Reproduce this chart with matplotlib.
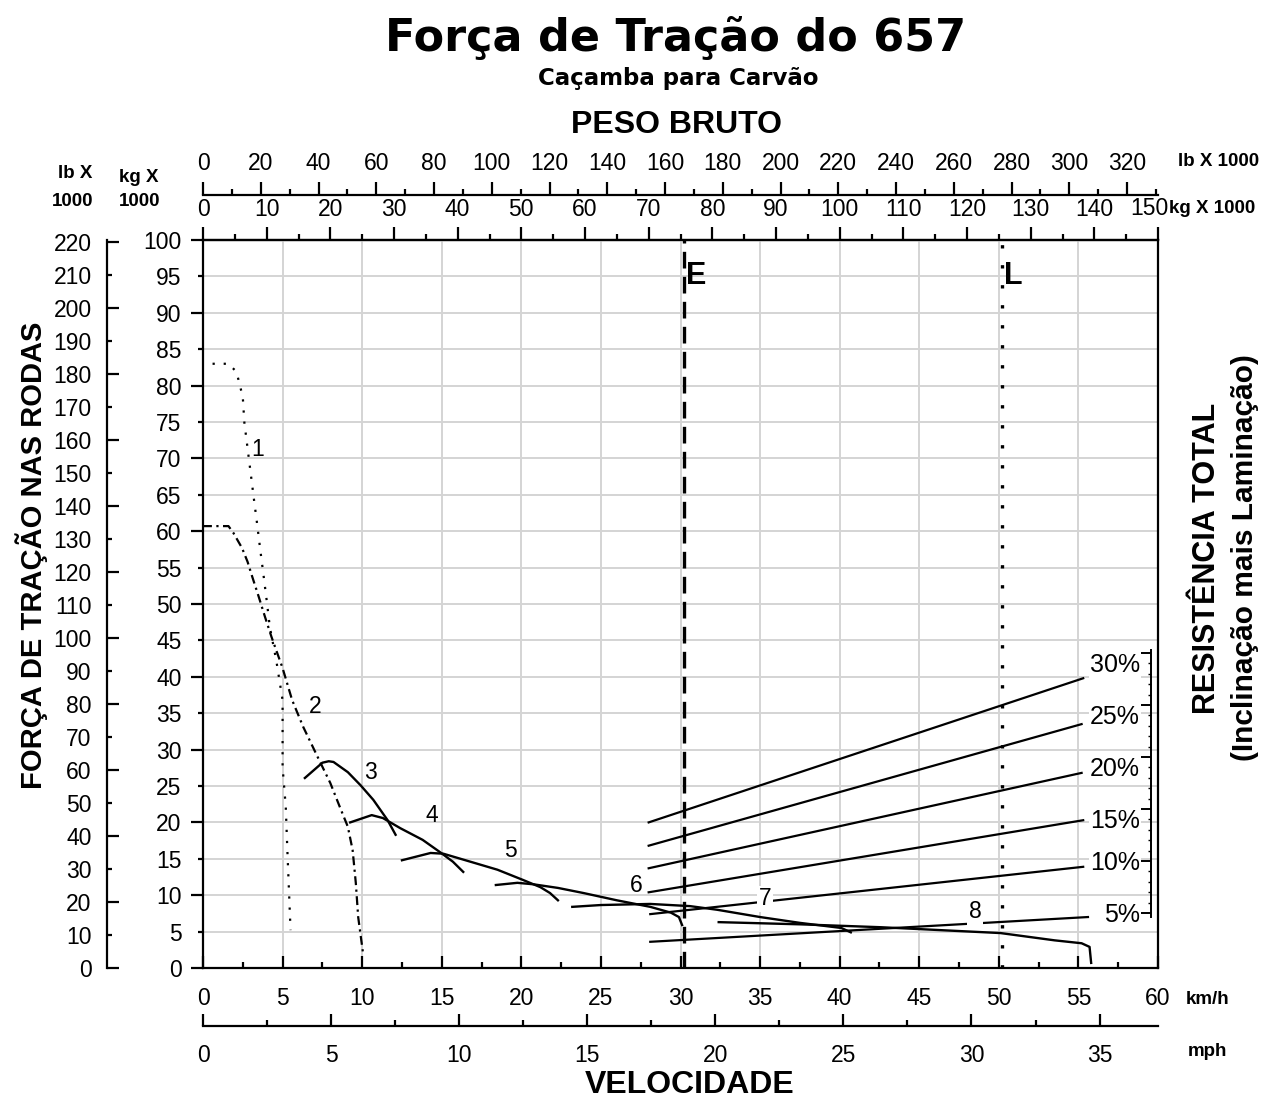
import matplotlib
matplotlib.use('Agg')
import matplotlib.pyplot as plt
from matplotlib.ticker import MultipleLocator, FuncFormatter

plt.rcParams['font.family'] = ['Liberation Sans', 'DejaVu Sans']

# --- data (speed in km/h, rimpull in kg x 1000) ---
gear1_v = [0.6, 1.6, 2.1, 2.3, 2.5, 2.6, 2.8, 3.0, 3.2, 3.4, 3.6, 3.8, 4.0, 4.2, 4.6, 5.0, 5.0, 5.2, 5.3, 5.4, 5.5]
gear1_f = [83.0, 83.0, 81.9, 80.2, 78.4, 74.9, 71.4, 67.9, 64.4, 61.0, 57.4, 54.0, 50.5, 46.8, 42.3, 36.8, 27.6, 22.1, 16.2, 10.7, 5.2]
gear2_v = [0.0, 1.6, 1.9, 2.45, 2.8, 3.1, 3.5, 3.9, 4.3, 5.0, 5.6, 6.3, 7.2, 8.0, 8.6, 9.1, 9.4, 9.6, 9.75, 10.05]
gear2_f = [60.7, 60.7, 59.8, 57.7, 55.8, 53.7, 51.0, 48.2, 45.5, 41.2, 36.8, 33.1, 29.0, 25.4, 22.1, 19.4, 16.2, 11.7, 7.0, 2.1]
gear3_v = [6.4, 7.5, 7.9, 8.2, 9.1, 9.9, 10.7, 11.6, 12.1]
gear3_f = [26.1, 28.2, 28.4, 28.3, 26.9, 25.1, 23.1, 20.3, 18.3]
gear4_v = [9.25, 10.6, 11.3, 12.4, 13.8, 14.9, 15.7, 16.35]
gear4_f = [20.0, 21.0, 20.6, 19.2, 17.6, 15.9, 14.6, 13.2]
gear5_v = [12.5, 14.3, 15.1, 16.8, 18.5, 20.1, 21.2, 21.8, 22.3]
gear5_f = [14.8, 15.8, 15.7, 14.6, 13.5, 12.1, 11.1, 10.3, 9.3]
gear6_v = [18.4, 19.75, 20.75, 22.3, 23.9, 26.0, 28.1, 29.4, 29.9, 30.1]
gear6_f = [11.4, 11.7, 11.5, 11.0, 10.3, 9.3, 8.4, 7.6, 7.0, 5.9]
gear7_v = [23.2, 25.0, 28.1, 30.6, 32.3, 35.0, 37.5, 40.1, 40.7]
gear7_f = [8.4, 8.65, 8.8, 8.5, 8.0, 7.0, 6.2, 5.5, 4.9]
gear8_v = [32.4, 37.5, 42.6, 50.1, 53.5, 55.2, 55.7, 55.8]
gear8_f = [6.3, 6.0, 5.6, 4.8, 3.8, 3.4, 2.9, 0.7]

gear_names = ['1', '2', '3', '4', '5', '6', '7', '8']
gear_label_v = [3.45, 7.04, 10.55, 14.4, 19.3, 27.2, 35.3, 48.5]
gear_label_f = [71.2, 35.9, 26.8, 21.0, 16.2, 11.3, 9.5, 7.7]

# total resistance lines (grade %)
grade_pct = [30, 25, 20, 15, 10, 5]
grade_v_start = [28.0, 28.0, 28.0, 28.0, 28.1, 28.1]
grade_v_end = [55.3, 55.2, 55.2, 55.3, 55.3, 55.6]
grade_f_start = [20.0, 16.8, 13.7, 10.4, 7.4, 3.6]
grade_f_end = [39.8, 33.5, 26.8, 20.3, 13.9, 7.0]

# gross weight markers (kg x 1000)
empty_t = 75.5
loaded_t = 125.5

KG_PER_KMH = 150 / 60.0   # top weight scale spans the same width as 0-60 km/h
LB = 2.20462
MPH = 1.609344
TICK_FS = 16.5

W, H = 1266, 1099
fig = plt.figure(figsize=(W / 100, H / 100), dpi=100)


def fx(px):
    return px / W


def fy(py):
    return 1 - py / H


x0, x1, y0, y1 = 203, 1158, 968, 240
ax = fig.add_axes([fx(x0), fy(y0), fx(x1) - fx(x0), fy(y1) - fy(y0)])
ax.set_xlim(0, 60)
ax.set_ylim(0, 100)
for s in ax.spines.values():
    s.set_linewidth(1.6)

ax.xaxis.set_major_locator(MultipleLocator(5))
ax.xaxis.set_minor_locator(MultipleLocator(2.5))
ax.yaxis.set_major_locator(MultipleLocator(10))
ax.yaxis.set_minor_locator(MultipleLocator(5))
ax.yaxis.set_minor_formatter(FuncFormatter(lambda v, p: f'{v:g}'))
ax.tick_params(axis='x', which='major', direction='in', length=9, width=1.6, pad=14, labelsize=TICK_FS)
ax.tick_params(axis='x', which='minor', direction='in', length=4.5, width=1.6)
ax.tick_params(axis='y', which='major', direction='out', length=8.5, width=1.6, pad=7, labelsize=TICK_FS)
ax.tick_params(axis='y', which='minor', direction='out', length=3.5, width=1.6, pad=12, labelsize=TICK_FS)
ax.xaxis.grid(True, which='major', color='#d4d4d4', lw=1.4)
ax.yaxis.grid(True, which='both', color='#d4d4d4', lw=1.4)
ax.set_axisbelow(True)

# top weight scales
kg = ax.secondary_xaxis('top', functions=(lambda v: v * KG_PER_KMH, lambda t: t / KG_PER_KMH))
kg.xaxis.set_major_locator(MultipleLocator(10))
kg.xaxis.set_minor_locator(MultipleLocator(5))
kg.xaxis.set_major_formatter(FuncFormatter(lambda v, p: '' if v >= 150 else f'{v:g}'))
kg.tick_params(which='major', direction='out', length=9.5, width=1.6, pad=4, labelsize=TICK_FS)
kg.tick_params(which='minor', direction='out', length=4, width=1.6)

lbt = ax.secondary_xaxis(1 + 45 / 728, functions=(lambda v: v * KG_PER_KMH * LB, lambda p: p / LB / KG_PER_KMH))
lbt.xaxis.set_major_locator(MultipleLocator(20))
lbt.xaxis.set_minor_locator(MultipleLocator(10))
lbt.tick_params(which='major', direction='out', length=9.5, width=1.6, pad=5, labelsize=TICK_FS)
lbt.tick_params(which='minor', direction='out', length=4, width=1.6)
for s in list(kg.spines.values()) + list(lbt.spines.values()):
    s.set_linewidth(1.6)

# left lb scale
lby = ax.secondary_yaxis(-96 / 955, functions=(lambda f: f * LB, lambda p: p / LB))
lby.yaxis.set_major_locator(MultipleLocator(20))
lby.yaxis.set_minor_locator(MultipleLocator(10))
lby.yaxis.set_minor_formatter(FuncFormatter(lambda v, p: f'{v:g}'))
lby.tick_params(which='major', direction='in', length=8.5, width=1.6, pad=11, labelsize=TICK_FS)
lby.tick_params(which='minor', direction='in', length=3.5, width=1.6, pad=11, labelsize=TICK_FS)
for s in lby.spines.values():
    s.set_linewidth(1.6)

# bottom mph scale
mph = ax.secondary_xaxis(-58 / 728, functions=(lambda v: v / MPH, lambda m: m * MPH))
mph.xaxis.set_major_locator(MultipleLocator(5))
mph.xaxis.set_minor_locator(MultipleLocator(2.5))
mph.tick_params(which='major', direction='in', length=9, width=1.6, pad=13, labelsize=TICK_FS)
mph.tick_params(which='minor', direction='in', length=4, width=1.6)
for s in mph.spines.values():
    s.set_linewidth(1.6)

# curves
ax.plot(gear1_v, gear1_f, color='black', lw=1.6, linestyle=(0, (1, 4)))
ax.plot(gear2_v, gear2_f, color='black', lw=1.6, linestyle=(0, (4, 2, 1, 2)))
for v, f in [(gear3_v, gear3_f), (gear4_v, gear4_f), (gear5_v, gear5_f),
             (gear6_v, gear6_f), (gear7_v, gear7_f), (gear8_v, gear8_f)]:
    ax.plot(v, f, color='black', lw=1.7)

for i in range(len(grade_pct)):
    ax.plot([grade_v_start[i], grade_v_end[i]], [grade_f_start[i], grade_f_end[i]], color='black', lw=1.6)

for name, v, f in zip(gear_names, gear_label_v, gear_label_f):
    bb = dict(facecolor='white', edgecolor='none', pad=1) if name in ('7', '8') else None
    ax.text(v, f, name, fontsize=16.5, ha='center', va='center', bbox=bb, zorder=5)

ax.axvline(empty_t / KG_PER_KMH, color='black', lw=2.4, linestyle=(0, (5, 2.5)))
ax.axvline(loaded_t / KG_PER_KMH, color='black', lw=2.4, linestyle=(0, (1, 5)))
ax.text(empty_t / KG_PER_KMH + 0.15, 95, 'E', fontsize=22, fontweight='bold', ha='left', va='center')
ax.text(loaded_t / KG_PER_KMH + 0.15, 95, 'L', fontsize=22, fontweight='bold', ha='left', va='center')

# total resistance (grade) scale on the right
rax = fig.add_axes([fx(1151), fy(917), 0.0005, fy(650) - fy(917)])
rax.set_facecolor('none')
rax.set_ylim(5 - 4 / 10.4, 30 + 3 / 10.4)
rax.set_xticks([])
for k in ('top', 'right', 'bottom'):
    rax.spines[k].set_visible(False)
rax.spines['left'].set_linewidth(1.4)
rax.yaxis.set_major_locator(MultipleLocator(5))
rax.yaxis.set_minor_locator(MultipleLocator(1))
rax.yaxis.set_major_formatter(FuncFormatter(lambda v, p: f'{v:.0f}%'))
rax.tick_params(which='major', direction='out', length=7, width=1.4, pad=1, labelsize=18)
rax.tick_params(which='minor', direction='out', length=2.5, width=1.0)
fig.canvas.draw()
for lbl in rax.get_yticklabels():
    lbl.set_bbox(dict(facecolor='white', edgecolor='none', pad=0.5))
    if lbl.get_text() in ('30%', '25%', '20%', '15%'):
        lbl.set_va('top')

# texts
fig.text(fx(676), fy(38), 'Força de Tração do 657', family='DejaVu Sans', fontweight='bold',
         fontsize=32, ha='center', va='center')
fig.text(fx(678), fy(78), 'Caçamba para Carvão', family='DejaVu Sans', fontweight='bold',
         fontsize=16.5, ha='center', va='center')
fig.text(fx(677), fy(125), 'PESO BRUTO', fontweight='bold', fontsize=23, ha='center', va='center')
fig.text(fx(690), fy(1085), 'VELOCIDADE', fontweight='bold', fontsize=23, ha='center', va='center')
fig.text(fx(32), fy(555), 'FORÇA DE TRAÇÃO NAS RODAS', fontweight='bold', fontsize=21,
         rotation=90, ha='center', va='center')
fig.text(fx(1207), fy(558), 'RESISTÊNCIA TOTAL', fontweight='bold', fontsize=22,
         rotation=90, ha='center', va='center')
fig.text(fx(1245), fy(558), '(Inclinação mais Laminação)', fontweight='bold', fontsize=21.5,
         rotation=90, ha='center', va='center')

small = dict(fontweight='bold', fontsize=13.5, va='center')
fig.text(fx(75), fy(174), 'lb X', ha='center', **small)
fig.text(fx(73), fy(201), '1000', ha='center', **small)
fig.text(fx(139), fy(177), 'kg X', ha='center', **small)
fig.text(fx(140), fy(201), '1000', ha='center', **small)
fig.text(fx(1178), fy(161), 'lb X 1000', ha='left', **small)
fig.text(fx(1168), fy(208), '150', ha='right', fontsize=TICK_FS, va='center')
fig.text(fx(1169), fy(208), 'kg X 1000', ha='left', **small)
fig.text(fx(1186), fy(999), 'km/h', ha='left', **small)
fig.text(fx(1188), fy(1052), 'mph', ha='left', **small)

fig.savefig('out.png', dpi=100, facecolor='white')
